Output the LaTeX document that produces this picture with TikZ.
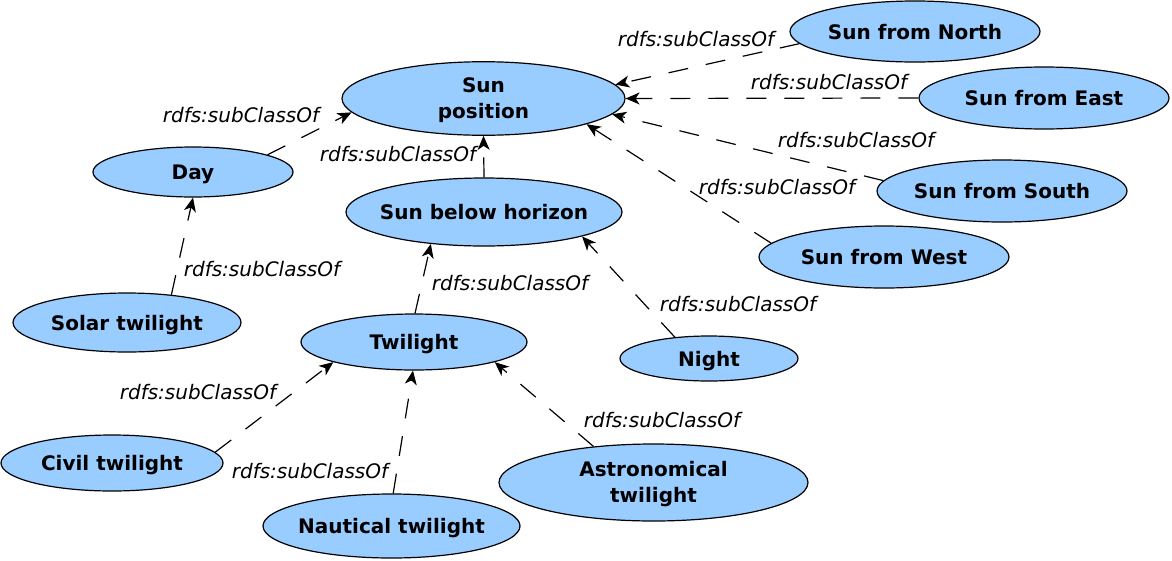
\documentclass[tikz,border=0pt]{standalone}
\usepackage{fontspec}
\setmainfont{DejaVu Sans}
\usetikzlibrary{shapes.geometric,arrows.meta}
\definecolor{nodeblue}{HTML}{99CCFF}
\newcommand\ctext[1]{\clap{\raisebox{0pt}[\height][0pt]{#1}}}
\newcommand\ctab[1]{\clap{\raisebox{-2pt}[\height][\depth]{\begin{tabular}{@{}c@{}}#1\end{tabular}}}}
\tikzset{
  ell/.style={ellipse, draw=black, fill=nodeblue, line width=1.2pt, inner sep=0pt, font=\fontsize{20}{26}\selectfont\bfseries},
  rel/.style={draw=black, line width=1.2pt, dash pattern=on 20pt off 18pt, -{Stealth[length=14pt,width=12pt,inset=4pt]}},
  lbl/.style={inner sep=0pt, font=\fontsize{20}{26}\selectfont\itshape}
}
\begin{document}
\begin{tikzpicture}[x=1pt,y=-1pt]
\useasboundingbox (0,0) rectangle (1172,560);
\node[ell, minimum width=283pt, minimum height=69pt] (sunpos) at (483.5,98.5) {\ctab{Sun\\position}};
\node[ell, minimum width=250pt, minimum height=61pt] (north) at (915,31.5) {\ctext{Sun from North}};
\node[ell, minimum width=250pt, minimum height=62pt] (east) at (1044,98) {\ctext{Sun from East}};
\node[ell, minimum width=250pt, minimum height=62pt] (south) at (1002,191) {\ctext{Sun from South}};
\node[ell, minimum width=250pt, minimum height=62pt] (west) at (884,257) {\ctext{Sun from West}};
\node[ell, minimum width=200pt, minimum height=50pt] (day) at (193,172) {\ctext{Day}};
\node[ell, minimum width=276pt, minimum height=68pt] (below) at (484,212) {\ctext{Sun below horizon}};
\node[ell, minimum width=228pt, minimum height=59pt] (solar) at (127,322.5) {\ctext{Solar twilight}};
\node[ell, minimum width=226pt, minimum height=56pt] (twi) at (414,342) {\ctext{Twilight}};
\node[ell, minimum width=178pt, minimum height=45pt] (night) at (709,358.5) {\ctext{Night}};
\node[ell, minimum width=222pt, minimum height=56pt] (civil) at (112,463) {\ctext{Civil twilight}};
\node[ell, minimum width=257pt, minimum height=64pt] (naut) at (391.5,526) {\ctext{Nautical twilight}};
\node[ell, minimum width=309pt, minimum height=77pt] (astro) at (653.5,482.5) {\ctab{Astronomical\\twilight}};

\draw[rel] (day.13) -- (sunpos.186);
\draw[rel] (solar.32) -- (day.270);
\draw[rel] (below.90) -- (sunpos.270);
\draw[rel] (north.186) -- (sunpos.6);
\draw[rel] (east.180) -- (sunpos.0);
\draw[rel] (south.175) -- (sunpos.353);
\draw[rel] (west.173) -- (sunpos.346);
\draw[rel] (twi.88) -- (below.211);
\draw[rel] (night.148) -- (below.346);
\draw[rel] (civil.6) -- (twi.194);
\draw[rel] (naut.87) -- (twi.268);
\draw[rel] (astro.149) -- (twi.346);

\node[lbl] (l1) at (241,115) {rdfs:subClassOf};
\node[lbl] (l2) at (262,269) {rdfs:subClassOf};
\node[lbl] (l3) at (398,154) {rdfs:subClassOf};
\node[lbl] (l4) at (696,39) {rdfs:subClassOf};
\node[lbl] (l5) at (829,82) {rdfs:subClassOf};
\node[lbl] (l6) at (856,140) {rdfs:subClassOf};
\node[lbl] (l7) at (777,187) {rdfs:subClassOf};
\node[lbl] (l8) at (510,283) {rdfs:subClassOf};
\node[lbl] (l9) at (738,304) {rdfs:subClassOf};
\node[lbl] (l10) at (198,392) {rdfs:subClassOf};
\node[lbl] (l11) at (310,471) {rdfs:subClassOf};
\node[lbl] (l12) at (662,420) {rdfs:subClassOf};
\end{tikzpicture}
\end{document}
